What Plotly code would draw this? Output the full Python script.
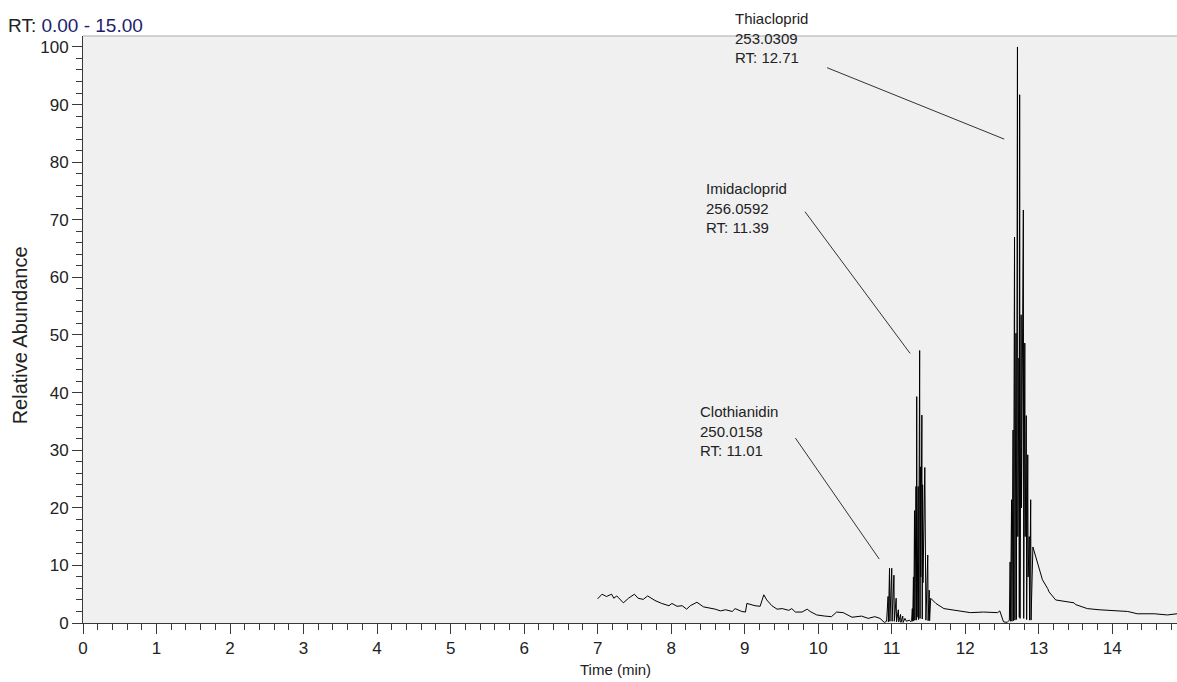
import plotly.graph_objects as go

# ---- chromatogram data (retention time in min, relative abundance in %) ----
baseline_t = [7.00, 7.06, 7.12, 7.19, 7.22, 7.26, 7.35, 7.42, 7.50, 7.55, 7.62, 7.68,
              7.78, 7.87, 7.97, 8.01, 8.08, 8.15, 8.21, 8.26, 8.35, 8.44, 8.60, 8.67,
              8.74, 8.83, 8.87, 8.96, 9.01, 9.03, 9.14, 9.21, 9.26, 9.30, 9.37, 9.44,
              9.51, 9.60, 9.64, 9.69, 9.78, 9.85, 9.89, 9.98, 10.09, 10.18, 10.25, 10.34,
              10.46, 10.59, 10.68, 10.77, 10.84, 10.90]
baseline_y = [4.2, 5.0, 4.6, 5.0, 4.3, 4.7, 3.5, 4.3, 5.0, 4.3, 4.1, 4.7,
              3.9, 3.4, 3.0, 3.4, 2.9, 3.0, 2.4, 3.0, 3.6, 2.8, 2.4, 2.1,
              2.3, 2.0, 2.5, 2.0, 1.9, 3.4, 3.0, 2.9, 4.9, 4.0, 3.0, 2.4,
              2.5, 2.2, 2.5, 1.9, 1.9, 2.4, 2.0, 1.4, 1.2, 1.1, 1.9, 1.8,
              1.0, 1.2, 0.8, 1.1, 0.8, 0.1]

clothianidin_t = [10.93, 10.95, 10.955, 10.97, 10.975, 11.00, 11.005, 11.03, 11.035,
                  11.06, 11.065, 11.09, 11.095, 11.12, 11.125, 11.15, 11.155, 11.18,
                  11.20, 11.24, 11.26]
clothianidin_y = [0.3, 4.6, 0.2, 9.5, 0.3, 9.5, 0.3, 8.3, 0.3,
                  4.3, 0.2, 2.3, 0.2, 1.5, 0.1, 1.2, 0.1, 0.8,
                  0.3, 0.5, 0.2]

imidacloprid_t = [11.27, 11.28, 11.285, 11.295, 11.30, 11.31, 11.315, 11.33, 11.335,
                  11.34, 11.345, 11.36, 11.365, 11.38, 11.385, 11.39, 11.395, 11.41,
                  11.415, 11.42, 11.425, 11.45, 11.455, 11.46, 11.465, 11.49, 11.495,
                  11.51, 11.515, 11.53]
imidacloprid_y = [0.4, 2.5, 0.3, 8.0, 0.4, 19.5, 0.5, 23.7, 0.5,
                  39.3, 1.0, 23.7, 0.6, 47.3, 0.8, 27.1, 8.0, 36.1,
                  0.7, 24.0, 7.0, 27.0, 0.6, 12.0, 0.5, 11.8, 0.4,
                  5.7, 0.4, 4.3]

between_t = [11.60, 11.71, 11.89, 12.07, 12.25, 12.44, 12.47, 12.52, 12.57, 12.60]
between_y = [3.4, 2.5, 2.1, 1.8, 1.9, 1.8, 2.1, 0.2, 0.1, 0.5]

thiacloprid_t = [12.61, 12.615, 12.63, 12.635, 12.65, 12.655, 12.67, 12.675, 12.69,
                 12.695, 12.71, 12.715, 12.73, 12.735, 12.74, 12.745, 12.76, 12.765,
                 12.79, 12.795, 12.81, 12.815, 12.83, 12.835, 12.85, 12.855, 12.87,
                 12.875, 12.89, 12.895, 12.92]
thiacloprid_y = [10.6, 0.3, 21.4, 0.3, 33.5, 0.4, 67.0, 0.5, 50.3,
                 0.6, 100.0, 15.0, 46.0, 1.0, 91.7, 0.8, 53.5, 20.0,
                 71.7, 0.8, 48.6, 15.0, 36.0, 0.6, 29.2, 8.0, 15.0,
                 0.5, 21.4, 0.5, 13.2]

tail_t = [12.98, 13.03, 13.05, 13.12, 13.14, 13.23, 13.37, 13.48, 13.50, 13.66,
          13.82, 14.02, 14.21, 14.34, 14.57, 14.75, 14.88]
tail_y = [10.4, 8.0, 7.5, 6.0, 5.4, 4.0, 3.7, 3.5, 3.2, 2.5,
          2.3, 2.2, 2.0, 1.6, 1.6, 1.4, 1.6]

time_min = baseline_t + clothianidin_t + imidacloprid_t + between_t + thiacloprid_t + tail_t
abundance = baseline_y + clothianidin_y + imidacloprid_y + between_y + thiacloprid_y + tail_y

# ---- peak labels: (name, m/z, RT, text x, text mid-line y, leader start, leader end) ----
peak_names = ["Thiacloprid", "Imidacloprid", "Clothianidin"]
peak_mz = ["253.0309", "256.0592", "250.0158"]
peak_rt = ["12.71", "11.39", "11.01"]
label_x = [8.84, 8.44, 8.36]
label_y = [101.6, 72.0, 33.3]
leader_x0 = [10.12, 9.82, 9.69]
leader_y0 = [96.4, 71.4, 32.1]
leader_x1 = [12.53, 11.25, 10.83]
leader_y1 = [84.0, 46.8, 11.1]

FONT = "Arial, Liberation Sans, sans-serif"
AXIS_COLOR = "#3a3a3a"
TEXT_COLOR = "#222222"

fig = go.Figure()
fig.add_trace(go.Scatter(
    x=time_min, y=abundance, mode="lines",
    line=dict(color="black", width=1),
    hoverinfo="x+y", showlegend=False,
))

annotations = []
shapes = []
for name, mz, rt, lx, ly, x0, y0, x1, y1 in zip(peak_names, peak_mz, peak_rt, label_x,
                                                 label_y, leader_x0, leader_y0,
                                                 leader_x1, leader_y1):
    annotations.append(dict(
        x=lx, y=ly, xref="x", yref="y", xanchor="left", yanchor="middle",
        text=f"{name}<br>{mz}<br>RT: {rt}", align="left", showarrow=False,
        font=dict(family=FONT, size=15, color=TEXT_COLOR),
    ))
    shapes.append(dict(type="line", xref="x", yref="y", x0=x0, y0=y0, x1=x1, y1=y1,
                       line=dict(color="#333333", width=1)))

# light frame line along the top of the plotting area
shapes.append(dict(type="line", xref="paper", yref="paper", x0=0, x1=1, y0=1, y1=1,
                   line=dict(color="#c4c4c4", width=1.5)))

annotations.append(dict(
    x=-0.0705, y=1.0187, xref="paper", yref="paper", xanchor="left", yanchor="middle",
    text='RT: <span style="color:#1e1e6e">0.00 - 15.00</span>', showarrow=False,
    font=dict(family=FONT, size=19, color=TEXT_COLOR),
))
annotations.append(dict(
    x=0.487, y=-0.0785, xref="paper", yref="paper", xanchor="center", yanchor="middle",
    text="Time (min)", showarrow=False,
    font=dict(family=FONT, size=15, color=TEXT_COLOR),
))
annotations.append(dict(
    x=-0.0576, y=0.49, xref="paper", yref="paper", xanchor="center", yanchor="middle",
    text="Relative Abundance", textangle=-90, showarrow=False,
    font=dict(family=FONT, size=20, color=TEXT_COLOR),
))

axis_common = dict(
    ticks="outside", ticklen=10, tickwidth=1, tickcolor=AXIS_COLOR,
    showline=True, linecolor=AXIS_COLOR, linewidth=1,
    showgrid=False, zeroline=False, automargin=False,
    tickfont=dict(family=FONT, size=17, color=TEXT_COLOR),
)

fig.update_layout(
    width=1177, height=682,
    margin=dict(l=83, r=0, t=36, b=59, pad=0),
    paper_bgcolor="white", plot_bgcolor="#f0f0f0",
    xaxis=dict(range=[0, 14.88], tick0=0, dtick=1,
               minor=dict(dtick=0.2, ticks="outside", ticklen=6, tickcolor=AXIS_COLOR),
               **axis_common),
    yaxis=dict(range=[0, 101.9], tick0=0, dtick=10,
               minor=dict(dtick=2, ticks="outside", ticklen=6, tickcolor=AXIS_COLOR),
               **axis_common),
    annotations=annotations, shapes=shapes,
)

fig.write_html("out.html")
